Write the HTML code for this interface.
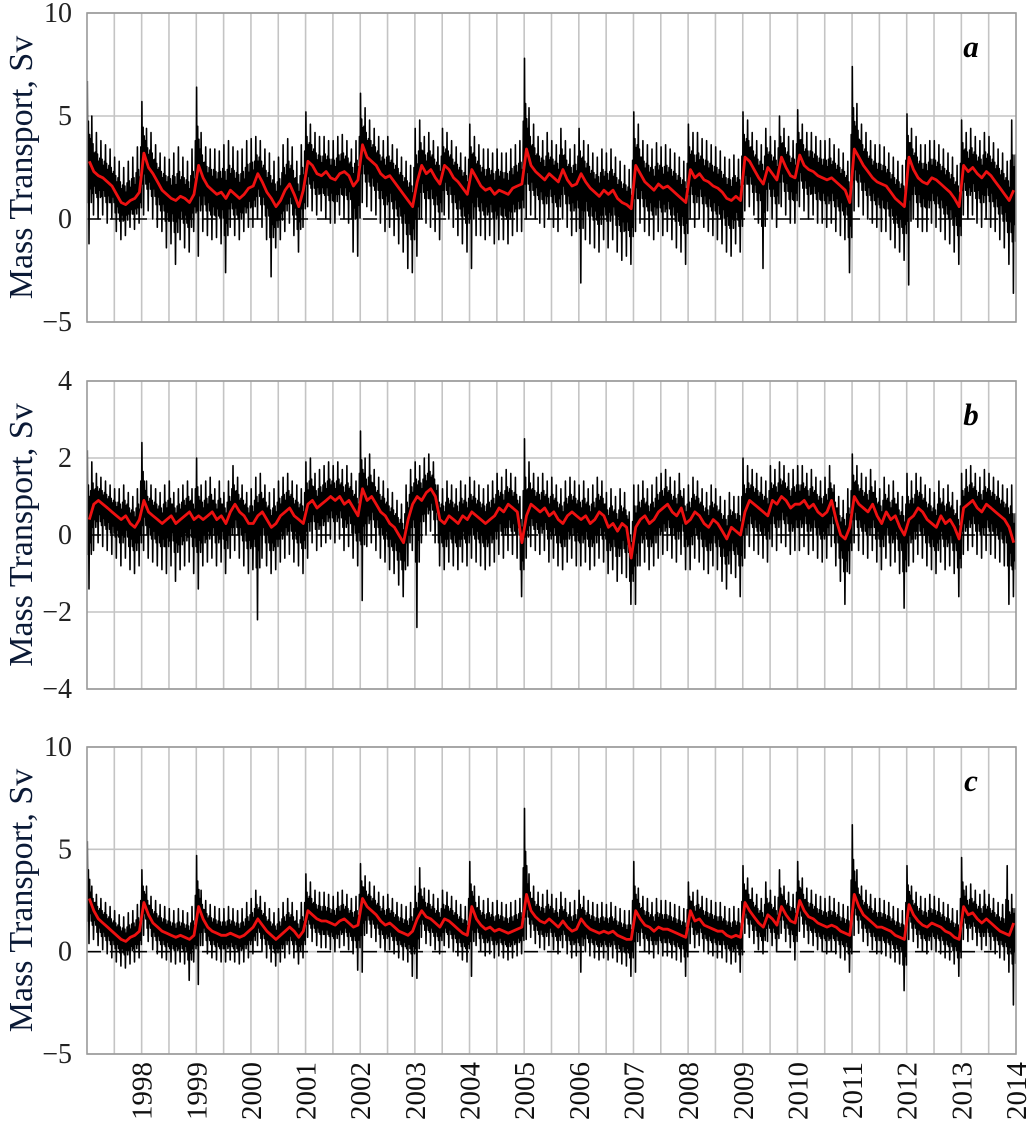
<!DOCTYPE html>
<html><head><meta charset="utf-8"><style>
html,body{margin:0;padding:0;background:#fff}
svg{display:block}
text{font-family:"Liberation Serif",serif}
</style></head><body>
<svg id="chart" width="1035" height="1133" viewBox="0 0 1035 1133" xmlns="http://www.w3.org/2000/svg"></svg>
<script>
const years = [1997,1998,1999,2000,2001,2002,2003,2004,2005,2006,2007,2008,2009,2010,2011,2012,2013];
const yearLabels = ["1998","1999","2000","2001","2002","2003","2004","2005","2006","2007","2008","2009","2010","2011","2012","2013","2014"];
const panelLetters = ["a","b","c"];
const ticksA = [10,5,0,-5];
const ticksB = [4,2,0,-2,-4];
const ticksC = [10,5,0,-5];

const redA = [
2.8,2.3,2.1,2.0,1.8,1.6,1.2,0.8,0.7,0.9,1.0,1.3,
3.2,2.5,2.2,1.8,1.4,1.2,1.0,0.9,1.1,1.0,0.8,1.2,
2.6,2.0,1.6,1.4,1.2,1.3,1.0,1.4,1.2,1.0,1.2,1.5,
1.6,2.2,1.8,1.3,1.0,0.6,0.9,1.4,1.7,1.2,0.6,1.4,
2.8,2.6,2.2,2.1,2.3,2.0,1.9,2.2,2.3,2.1,1.6,1.9,
3.6,3.0,2.8,2.6,2.2,2.0,2.1,1.8,1.5,1.2,0.9,0.6,
1.8,2.6,2.2,2.4,2.0,1.7,2.6,2.4,2.0,1.8,1.5,1.2,
2.4,2.0,1.6,1.4,1.5,1.2,1.4,1.3,1.2,1.5,1.6,1.7,
3.4,2.6,2.3,2.1,1.9,2.2,2.0,1.8,2.4,1.9,1.6,1.7,
2.2,1.8,1.5,1.3,1.1,1.4,1.2,1.4,1.0,0.8,0.7,0.5,
2.6,2.2,1.8,1.6,1.4,1.7,1.5,1.6,1.4,1.2,1.0,0.8,
2.4,2.0,2.2,1.9,1.8,1.6,1.5,1.3,1.0,0.9,1.1,0.9,
3.0,2.8,2.4,2.0,1.7,2.5,2.2,1.9,3.0,2.5,2.1,2.0,
3.1,2.6,2.4,2.3,2.1,2.0,1.9,2.0,1.8,1.6,1.4,0.8,
3.4,3.0,2.6,2.3,2.0,1.8,1.7,1.6,1.3,1.0,0.8,0.6,
3.0,2.4,2.0,1.8,1.7,2.0,1.9,1.7,1.5,1.3,1.0,0.6,
2.6,2.3,2.5,2.2,2.0,2.3,2.1,1.8,1.5,1.2,0.9,1.4];
const hiA = [
6.7,5.0,4.2,3.8,3.6,3.4,3.0,2.8,2.5,2.8,3.0,3.5,
5.7,4.4,4.2,3.6,3.2,3.0,2.9,3.2,3.5,3.0,2.8,3.4,
6.4,4.2,3.5,3.4,3.4,3.3,3.6,3.8,3.5,3.3,3.4,3.8,
3.9,4.0,3.8,3.4,3.2,2.8,3.0,3.6,3.9,3.5,2.8,3.6,
5.2,4.6,4.2,4.0,4.0,3.8,3.8,4.0,4.1,3.8,3.4,3.8,
6.1,5.4,4.8,4.4,4.0,3.8,4.0,3.6,3.4,3.0,2.8,2.6,
4.4,4.8,4.0,4.2,3.8,3.5,4.4,4.2,3.8,3.5,3.2,3.0,
4.6,4.0,3.6,3.4,3.4,3.2,3.4,3.2,3.2,3.4,3.6,3.8,
7.8,5.4,4.6,4.0,3.8,4.2,3.8,3.6,4.4,3.8,3.4,3.6,
4.4,3.8,3.6,3.2,3.0,3.4,3.2,3.4,3.0,2.8,2.6,2.4,
5.2,4.6,3.8,3.6,3.4,3.7,3.5,3.6,3.4,3.2,3.0,2.8,
4.6,4.2,4.2,3.9,3.8,3.6,3.5,3.3,3.0,2.9,3.1,2.9,
5.2,4.8,4.2,3.8,3.6,4.4,4.0,3.8,5.0,4.4,4.0,3.8,
5.3,4.6,4.2,4.2,4.0,3.8,3.8,3.9,3.6,3.4,3.2,2.8,
7.4,5.6,4.6,4.2,3.8,3.6,3.6,3.5,3.2,3.0,2.8,2.6,
5.1,4.4,4.0,3.6,3.6,3.8,3.8,3.6,3.4,3.2,3.0,2.6,
4.8,4.2,4.4,4.0,3.8,4.2,4.0,3.7,3.4,3.2,2.8,4.8];
const loA = [
-1.2,0.2,0.0,0.2,-0.2,0.0,-0.6,-1.0,-0.8,-0.4,-0.5,-0.2,
0.2,0.4,0.0,-0.4,-0.6,-1.4,-1.2,-2.2,-1.0,-1.4,-1.6,-0.6,
-1.8,-0.6,-0.8,-1.0,-0.9,-1.2,-2.6,-0.4,-0.8,-1.0,-0.6,-0.4,
-0.4,0.0,-0.4,-1.0,-2.8,-1.4,-1.0,-0.6,-0.2,-0.8,-1.6,-0.4,
0.6,0.4,0.2,0.4,0.0,-0.2,-0.2,0.2,0.0,-0.2,-1.6,-1.8,
0.8,0.6,0.4,0.2,-0.2,-0.6,-0.4,-0.8,-1.2,-1.6,-2.4,-2.6,
-1.8,0.0,-0.2,-0.4,-0.6,-1.0,0.2,0.0,-0.4,-0.8,-1.2,-1.6,
-2.4,-0.8,-0.8,-1.0,-0.8,-1.2,-1.0,-1.0,-1.2,-0.8,-0.6,-0.6,
0.0,0.2,0.0,-0.2,-0.4,0.0,-0.4,-0.6,0.0,-0.4,-0.8,-0.6,
-3.1,-1.0,-1.2,-1.4,-1.6,-1.0,-1.4,-1.0,-1.6,-2.0,-1.8,-2.2,
-0.6,-0.2,-0.6,-0.8,-1.0,-0.6,-0.8,-0.6,-1.0,-1.4,-1.6,-2.2,
0.0,-0.4,0.0,-0.4,-0.6,-0.8,-1.0,-1.2,-1.6,-1.8,-1.2,-1.6,
0.4,0.6,0.2,-0.2,-2.4,0.4,0.0,-0.4,0.6,0.2,-0.2,-0.2,
0.6,0.4,0.0,0.2,-0.2,-0.2,-0.4,-0.2,-0.6,-0.8,-1.0,-2.6,
0.4,0.6,0.2,0.0,-0.2,-0.4,-0.6,-0.6,-1.0,-1.4,-1.6,-2.0,
-3.2,0.0,-0.4,-0.6,-0.6,-0.2,-0.4,-0.6,-1.0,-1.2,-1.6,-2.2,
0.2,0.0,0.2,-0.2,-0.4,0.0,-0.4,-0.6,-1.0,-1.4,-2.2,-3.6];

const redB = [
0.4,0.8,0.9,0.8,0.7,0.6,0.5,0.4,0.5,0.3,0.2,0.4,
0.9,0.6,0.5,0.4,0.3,0.4,0.5,0.3,0.4,0.5,0.6,0.4,
0.5,0.4,0.5,0.6,0.4,0.5,0.3,0.6,0.8,0.6,0.5,0.3,
0.3,0.5,0.6,0.4,0.2,0.3,0.5,0.6,0.7,0.5,0.4,0.3,
0.8,0.9,0.7,0.8,0.9,1.0,0.9,1.0,0.8,0.9,0.7,0.5,
1.2,0.9,1.0,0.8,0.6,0.5,0.3,0.2,0.0,-0.2,0.4,0.8,
1.0,0.9,1.1,1.2,1.0,0.4,0.3,0.5,0.4,0.3,0.5,0.4,
0.6,0.5,0.4,0.3,0.4,0.5,0.7,0.6,0.8,0.7,0.6,-0.2,
0.5,0.8,0.7,0.6,0.7,0.5,0.6,0.4,0.3,0.5,0.6,0.5,
0.4,0.5,0.3,0.4,0.6,0.5,0.2,0.3,0.1,0.3,0.2,-0.6,
0.2,0.4,0.5,0.3,0.4,0.6,0.7,0.8,0.6,0.5,0.7,0.3,
0.4,0.6,0.5,0.3,0.2,0.4,0.3,0.1,-0.1,0.2,0.1,0.0,
0.6,0.9,0.8,0.7,0.6,0.5,0.9,0.8,1.0,0.9,0.7,0.8,
0.8,0.9,0.7,0.8,0.6,0.5,0.6,0.9,0.4,0.0,-0.1,0.2,
1.0,0.8,0.7,0.6,0.8,0.5,0.3,0.6,0.4,0.5,0.2,0.0,
0.4,0.5,0.7,0.6,0.4,0.3,0.2,0.5,0.3,0.4,0.2,-0.1,
0.7,0.8,0.9,0.7,0.6,0.8,0.7,0.6,0.5,0.4,0.2,-0.2];
const hiB = [
2.2,1.9,1.6,1.5,1.4,1.3,1.2,1.2,1.3,1.1,1.0,1.2,
2.4,1.4,1.3,1.2,1.1,1.3,1.4,1.1,1.2,1.3,1.4,1.2,
2.0,1.3,1.4,1.5,1.2,1.4,1.1,1.4,1.8,1.5,1.3,1.1,
1.2,1.5,1.6,1.3,1.1,1.2,1.4,1.5,1.6,1.4,1.3,1.2,
1.9,2.0,1.6,1.7,1.8,1.9,1.8,1.9,1.7,1.8,1.6,1.4,
2.7,2.0,2.1,1.7,1.5,1.4,1.2,1.1,0.9,0.8,1.3,1.7,
1.9,1.8,2.0,2.1,1.9,1.3,1.2,1.4,1.3,1.2,1.4,1.3,
1.5,1.4,1.3,1.2,1.3,1.4,1.6,1.5,1.7,1.6,1.5,1.0,
2.5,1.9,1.6,1.5,1.6,1.4,1.5,1.3,1.2,1.4,1.5,1.4,
1.3,1.4,1.2,1.3,1.5,1.4,1.1,1.2,1.0,1.2,1.1,0.6,
1.3,1.3,1.4,1.2,1.3,1.5,1.6,1.7,1.5,1.4,1.6,1.2,
1.3,1.5,1.4,1.2,1.1,1.3,1.2,1.0,0.9,1.1,1.0,1.0,
2.0,1.8,1.7,1.6,1.5,1.4,1.8,1.7,1.9,1.8,1.6,1.7,
1.8,1.8,1.6,1.7,1.5,1.4,1.5,1.8,1.3,1.0,0.9,1.2,
2.1,1.8,1.6,1.5,1.7,1.4,1.2,1.5,1.3,1.4,1.1,1.0,
1.6,1.4,1.6,1.5,1.3,1.2,1.1,1.4,1.2,1.3,1.1,0.9,
1.6,1.7,1.8,1.6,1.5,1.7,1.6,1.5,1.4,1.3,1.2,1.3];
const loB = [
-1.4,-0.4,-0.2,-0.3,-0.4,-0.5,-0.6,-0.8,-0.6,-0.9,-1.0,-0.8,
-0.4,-0.6,-0.7,-0.8,-0.9,-1.0,-0.8,-1.2,-0.9,-0.8,-0.7,-1.0,
-1.4,-0.8,-0.7,-0.6,-0.8,-0.7,-1.0,-0.6,-0.4,-0.6,-0.8,-1.0,
-0.9,-2.2,-0.6,-0.8,-1.0,-0.9,-0.7,-0.6,-0.5,-0.7,-0.8,-1.0,
-0.6,-0.2,-0.4,-0.3,-0.2,-0.1,-0.2,-0.1,-0.4,-0.3,-0.6,-0.8,
-1.7,-0.3,-0.2,-0.4,-0.6,-0.7,-0.9,-1.0,-1.3,-1.6,-0.8,-0.4,
-2.4,-0.2,0.0,0.1,-0.2,-0.8,-0.9,-0.7,-0.8,-0.9,-0.7,-0.8,
-0.6,-0.7,-0.8,-0.9,-0.8,-0.7,-0.5,-0.6,-0.4,-0.5,-0.6,-1.6,
-0.6,-0.3,-0.4,-0.5,-0.4,-0.7,-0.6,-0.8,-0.9,-0.7,-0.6,-0.8,
-0.8,-0.7,-0.9,-0.8,-0.6,-0.7,-1.0,-0.9,-1.2,-1.0,-1.1,-1.8,
-1.8,-0.8,-0.7,-0.9,-0.8,-0.6,-0.5,-0.4,-0.6,-0.7,-0.5,-0.9,
-0.9,-0.6,-0.7,-0.9,-1.0,-0.8,-0.9,-1.2,-1.4,-1.0,-1.1,-1.6,
-0.6,-0.3,-0.4,-0.5,-0.6,-0.7,-0.3,-0.4,-0.2,-0.3,-0.5,-0.4,
-0.4,-0.3,-0.5,-0.4,-0.6,-0.7,-0.6,-0.3,-0.8,-1.2,-1.8,-1.0,
-0.2,-0.4,-0.5,-0.6,-0.4,-0.7,-0.9,-0.6,-0.8,-0.7,-1.0,-1.9,
-0.8,-0.7,-0.5,-0.6,-0.8,-0.9,-1.0,-0.7,-0.9,-0.8,-1.0,-1.6,
-0.5,-0.4,-0.3,-0.5,-0.6,-0.4,-0.5,-0.6,-0.7,-0.8,-1.8,-1.6];

const redC = [
2.6,2.0,1.6,1.4,1.2,1.0,0.8,0.6,0.5,0.7,0.8,1.0,
2.4,1.8,1.4,1.2,1.0,0.9,0.8,0.7,0.8,0.7,0.6,0.8,
2.2,1.6,1.2,1.0,0.9,0.8,0.8,0.9,0.8,0.7,0.8,1.0,
1.2,1.6,1.3,1.0,0.8,0.6,0.8,1.0,1.2,1.0,0.7,1.0,
2.0,1.8,1.6,1.5,1.5,1.4,1.3,1.5,1.6,1.4,1.2,1.3,
2.6,2.2,2.0,1.8,1.5,1.3,1.4,1.2,1.0,0.9,0.8,1.0,
1.6,2.0,1.7,1.6,1.4,1.2,1.6,1.5,1.3,1.1,0.9,0.8,
2.2,1.6,1.3,1.1,1.2,1.0,1.1,1.0,0.9,1.0,1.1,1.2,
2.8,2.0,1.7,1.5,1.4,1.6,1.4,1.2,1.5,1.2,1.0,1.1,
1.6,1.3,1.1,1.0,0.9,1.0,0.9,1.0,0.8,0.7,0.6,0.6,
2.0,1.6,1.3,1.2,1.0,1.2,1.1,1.1,1.0,0.9,0.8,0.7,
2.0,1.5,1.6,1.3,1.2,1.1,1.0,1.0,0.8,0.7,0.8,0.7,
2.4,2.0,1.7,1.4,1.2,1.8,1.6,1.3,2.2,1.8,1.5,1.4,
2.5,2.0,1.7,1.6,1.4,1.3,1.2,1.3,1.2,1.0,0.9,0.8,
2.8,2.2,1.8,1.6,1.4,1.2,1.2,1.1,1.0,0.8,0.7,0.6,
2.3,1.8,1.5,1.3,1.2,1.4,1.3,1.2,1.0,0.9,0.7,0.6,
2.2,1.8,1.9,1.6,1.4,1.6,1.4,1.2,1.0,0.9,0.8,1.4];
const hiC = [
5.4,3.2,2.8,2.6,2.4,2.2,2.0,1.8,1.7,1.9,2.0,2.3,
4.0,3.2,2.7,2.5,2.3,2.2,2.1,2.0,2.1,2.0,1.9,2.2,
4.7,3.0,2.5,2.3,2.2,2.1,2.1,2.2,2.1,2.0,2.1,2.4,
2.6,3.0,2.7,2.4,2.1,1.9,2.1,2.4,2.6,2.4,2.0,2.4,
3.8,3.4,3.0,2.9,2.9,2.8,2.7,2.9,3.0,2.8,2.6,2.7,
4.3,3.7,3.4,3.2,2.9,2.7,2.8,2.6,2.4,2.3,2.2,2.4,
3.2,4.1,3.1,3.0,2.8,2.6,3.0,2.9,2.7,2.5,2.3,2.2,
4.4,3.2,2.7,2.5,2.6,2.4,2.5,2.4,2.3,2.4,2.5,2.6,
7.0,3.8,3.2,2.9,2.8,3.0,2.8,2.6,2.9,2.6,2.4,2.5,
3.0,2.7,2.5,2.4,2.3,2.4,2.3,2.4,2.2,2.1,2.0,2.0,
4.4,3.1,2.7,2.6,2.4,2.6,2.5,2.5,2.4,2.3,2.2,2.1,
3.4,2.9,3.0,2.7,2.6,2.5,2.4,2.4,2.2,2.1,2.2,2.1,
4.2,3.6,3.1,2.8,2.6,3.4,3.0,2.7,4.0,3.2,2.9,2.8,
4.4,3.6,3.1,3.0,2.8,2.7,2.6,2.7,2.6,2.4,2.3,2.2,
6.2,4.0,3.2,3.0,2.8,2.6,2.6,2.5,2.4,2.2,2.1,2.0,
4.2,3.2,2.9,2.7,2.6,2.8,2.7,2.6,2.4,2.3,2.1,2.0,
4.6,3.2,3.3,3.0,2.8,3.0,2.8,2.6,2.4,2.3,4.2,2.8];
const loC = [
0.4,0.6,0.3,0.1,-0.1,-0.3,-0.5,-0.7,-0.8,-0.6,-0.5,-0.3,
0.8,0.5,0.1,-0.1,-0.3,-0.4,-0.5,-0.6,-0.5,-0.6,-1.4,-0.5,
-1.6,0.3,-0.1,-0.3,-0.4,-0.5,-0.5,-0.4,-0.5,-0.6,-0.5,-0.3,
-0.1,0.3,0.0,-0.3,-0.5,-0.7,-0.5,-0.3,-0.1,-0.3,-0.6,-0.3,
0.7,0.5,0.3,0.2,0.2,0.1,0.0,0.2,0.3,0.1,-0.1,-0.9,
-1.0,0.9,0.7,0.5,0.2,0.0,0.1,-0.1,-0.3,-0.4,-0.5,-1.2,
-1.3,0.7,0.4,0.3,0.1,-0.1,0.3,0.2,0.0,-0.2,-0.4,-0.5,
-1.2,0.3,0.0,-0.2,-0.1,-0.3,-0.2,-0.3,-0.4,-0.3,-0.2,-0.1,
0.6,0.7,0.4,0.2,0.1,0.3,0.1,-0.1,0.2,-0.1,-0.3,-0.2,
-1.0,0.0,-0.2,-0.3,-0.4,-0.3,-0.4,-0.3,-0.5,-0.6,-0.7,-1.2,
-1.0,0.3,0.0,-0.1,-0.3,-0.1,-0.2,-0.2,-0.3,-0.4,-0.5,-1.2,
0.4,0.2,0.3,0.0,-0.1,-0.2,-0.3,-0.3,-0.5,-0.6,-0.5,-1.0,
0.9,0.7,0.4,0.1,-0.1,0.5,0.3,0.0,0.9,0.5,0.2,-0.4,
1.0,0.7,0.4,0.3,0.1,0.0,-0.1,0.0,-0.1,-0.3,-0.4,-1.0,
0.8,0.9,0.5,0.3,0.1,-0.1,-0.1,-0.2,-0.3,-0.5,-0.6,-1.9,
0.6,0.5,0.2,0.0,-0.1,0.1,0.0,-0.1,-0.3,-0.4,-0.6,-1.2,
0.6,0.5,0.6,0.3,0.1,0.3,0.1,-0.1,-0.3,-0.4,-1.0,-2.6];

const NS = "http://www.w3.org/2000/svg";
const svg = document.getElementById("chart");
const X0 = 87, X1 = 1016, T0 = 1997, T1 = 2014;
function xScale(t){ return X0 + (t - T0) / (T1 - T0) * (X1 - X0); }
function mk(tag, attrs, parent){
  const e = document.createElementNS(NS, tag);
  for (const k in attrs) e.setAttribute(k, attrs[k]);
  (parent || svg).appendChild(e);
  return e;
}

const panels = [
  {top:13, bottom:322, min:-5, max:10, ticks:ticksA, red:redA, hi:hiA, lo:loA, letter:panelLetters[0]},
  {top:381, bottom:689, min:-4, max:4, ticks:ticksB, red:redB, hi:hiB, lo:loB, letter:panelLetters[1]},
  {top:747, bottom:1054, min:-5, max:10, ticks:ticksC, red:redC, hi:hiC, lo:loC, letter:panelLetters[2]}
];

panels.forEach((p, pi) => {
  const yScale = v => p.bottom - (v - p.min) / (p.max - p.min) * (p.bottom - p.top);
  const g = mk("g", {});
  
  
  for (let t = T0 + 0.5; t < T1; t += 0.5) {
    const l = mk("line", {x1:xScale(t), x2:xScale(t), y1:p.top, y2:p.bottom, stroke:"#c4c4c4", "stroke-width":1.6}, g);
    
    
  }
  p.ticks.forEach(v => {
    const y = yScale(v);
    const l = mk("line", {x1:X0, x2:X1, y1:y, y2:y, stroke:"#c4c4c4", "stroke-width":1.6}, g);
    
    
    const tx = mk("text", {x:72, y:y + 9, "text-anchor":"end", "font-size":28, fill:"#222"}, g);
    tx.textContent = (v < 0 ? "\u2212" + Math.abs(v) : String(v));
    
    
  });
  // black series: dense zigzag built from each month's hi / lo / smoothed values
  let d = "";
  p.hi.forEach((h, i) => {
    const r = p.red[i], lo = p.lo[i];
    const nh = i + 1 < p.hi.length ? p.hi[i + 1] : h;
    const vals = [h, (lo + r) / 2, (h + r) / 2, lo, (h + 2 * r) / 3, (lo + 2 * r) / 3, (nh + r) / 2, (lo + r) / 2];
    vals.forEach((v, k) => {
      const t = T0 + (i + (k + 0.5) / vals.length) / 12;
      d += (i === 0 && k === 0 ? "M" : "L") + xScale(t).toFixed(1) + "," + yScale(v).toFixed(1);
    });
  });
  const blk = mk("path", {d:d, fill:"none", stroke:"#000", "stroke-width":1.6, "stroke-linejoin":"round"}, g);
  
  
  const z = mk("line", {x1:X0, x2:X1, y1:yScale(0), y2:yScale(0), stroke:"#000", "stroke-width":1.6, "stroke-dasharray":"14,9"}, g);
  
  
  let dr = "";
  p.red.forEach((v, i) => { dr += (i ? "L" : "M") + xScale(T0 + (i + 0.5) / 12).toFixed(1) + "," + yScale(v).toFixed(1); });
  const rl = mk("path", {d:dr, fill:"none", stroke:"#ee1111", "stroke-width":2.8, "stroke-linejoin":"round"}, g);
  
  
  const fr = mk("rect", {x:X0, y:p.top, width:X1 - X0, height:p.bottom - p.top, fill:"none", stroke:"#999", "stroke-width":1.6}, g);
  
  
  const lt = mk("text", {x:971, y:p.top + 44, "text-anchor":"middle", "font-size":31, "font-weight":"bold", "font-style":"italic", fill:"#000"}, g);
  lt.textContent = p.letter;
  
  
  const cy = (p.top + p.bottom) / 2;
  const yt = mk("text", {x:0, y:0, transform:"translate(32," + cy + ") rotate(-90)", "text-anchor":"middle", "font-size":34, fill:"#0b1a36"}, g);
  yt.textContent = "Mass Transport, Sv";
  
  
});

yearLabels.forEach((lab, i) => {
  const x = xScale(years[i] + 1);
  const t = mk("text", {x:0, y:0, transform:"translate(" + (x + 10) + ",1062) rotate(-90)", "text-anchor":"end", "font-size":29, fill:"#111"});
  t.textContent = lab;
  
  
});
</script>
</body></html>
